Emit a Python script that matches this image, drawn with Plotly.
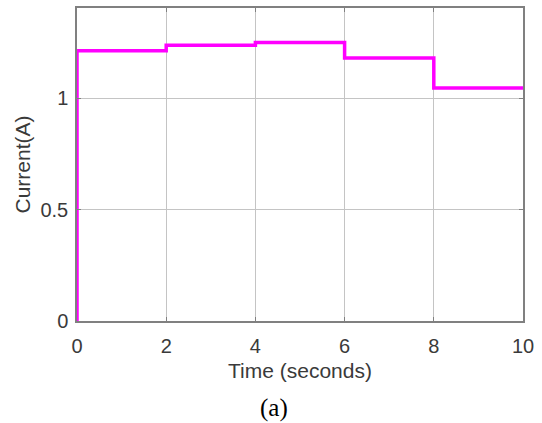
import plotly.graph_objects as go

time_s = [0, 0, 2, 4, 6, 8, 10]
current_a = [0, 1.213, 1.238, 1.25, 1.18, 1.046, 1.046]
x_ticks = [0, 2, 4, 6, 8, 10]
y_ticks = [0, 0.5, 1]
y_tick_labels = ["0", "0.5", "1"]

FONT = "Liberation Sans, Arial"
TXT = "#3a3a3a"

fig = go.Figure()
fig.add_trace(go.Scatter(x=time_s, y=current_a, mode="lines", line_shape="hv",
                         line=dict(color="#ff00ff", width=3.5), showlegend=False))

axis_common = dict(showline=True, linecolor="#808080", linewidth=1.5, mirror="ticks",
                   showgrid=True, gridcolor="#c4c4c4", gridwidth=1, zeroline=False,
                   ticks="inside", ticklen=4, tickcolor="#808080",
                   tickfont=dict(family=FONT, size=20, color=TXT))

fig.update_xaxes(range=[0, 10], tickvals=x_ticks, ticklabelstandoff=6,
                 title=dict(text="Time (seconds)", font=dict(family=FONT, size=21, color=TXT), standoff=8),
                 **axis_common)
fig.update_yaxes(range=[0, 1.405], tickvals=y_ticks, ticktext=y_tick_labels, ticklabelstandoff=3,
                 title=dict(text="Current(A)", font=dict(family=FONT, size=21, color=TXT), standoff=4),
                 **axis_common)

fig.add_annotation(text="(a)", xref="paper", yref="paper", x=0.442, y=-0.278,
                   xanchor="center", yanchor="middle",
                   showarrow=False, font=dict(family="Liberation Serif, Times New Roman", size=25, color="#000000"))

fig.update_layout(width=542, height=423, margin=dict(l=77, r=19, t=6, b=102),
                  plot_bgcolor="white", paper_bgcolor="white")

fig.write_html("out.html", config={"displayModeBar": False},
               post_script="document.body.style.margin='0';")
